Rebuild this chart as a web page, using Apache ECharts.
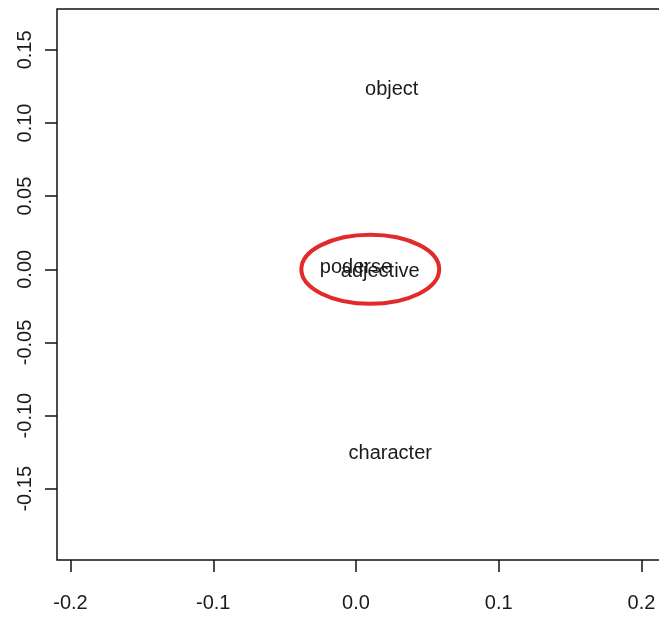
<!DOCTYPE html>
<html>
<head>
<meta charset="utf-8">
<script src="https://cdn.jsdelivr.net/npm/echarts@6/dist/echarts.min.js"></script>
<style>
html, body { margin: 0; padding: 0; background: #fff; }
#chart { width: 659px; height: 617px; }
</style>
</head>
<body>
<div id="chart"></div>
<script>
// ---- data ----
const words = ['object', 'poderse', 'adjective', 'character'];
const wordX = [0.025, 0.0, 0.017, 0.024];
const wordY = [0.1226, 0.0012, -0.0012, -0.1256];

const xTicks = [-0.2, -0.1, 0.0, 0.1, 0.2];
const xTickLabels = ['-0.2', '-0.1', '0.0', '0.1', '0.2'];
const yTicks = [-0.15, -0.10, -0.05, 0.00, 0.05, 0.10, 0.15];
const yTickLabels = ['-0.15', '-0.10', '-0.05', '0.00', '0.05', '0.10', '0.15'];

const ellipseCenter = [0.01, 0.0];
const ellipseRadius = [0.0483, 0.0236];

const xRange = [-0.20946, 0.22487];
const yRange = [-0.1987, 0.17792];

// ---- chart ----
const chart = echarts.init(document.getElementById('chart'), null, { renderer: 'canvas' });
const font = '"Liberation Sans", Arial, sans-serif';
const textColor = '#1a1a1a';

function labelFor(ticks, labels) {
  return function (v) {
    for (let i = 0; i < ticks.length; i++) {
      if (Math.abs(ticks[i] - v) < 1e-9) return labels[i];
    }
    return '';
  };
}

const option = {
  animation: false,
  backgroundColor: '#ffffff',
  grid: {
    left: 57, top: 9, right: -18, bottom: 57,
    show: true, borderColor: '#111', borderWidth: 1.5,
    containLabel: false, outerBoundsMode: 'none'
  },
  xAxis: {
    type: 'value', min: xRange[0], max: xRange[1], position: 'bottom',
    axisLine: { show: false, onZero: false },
    splitLine: { show: false },
    axisTick: { show: true, inside: false, length: 12, customValues: xTicks, lineStyle: { color: '#111', width: 1.5 } },
    axisLabel: {
      show: true, customValues: xTicks, margin: 33,
      formatter: labelFor(xTicks, xTickLabels),
      color: textColor, fontSize: 20, fontFamily: font
    }
  },
  yAxis: {
    type: 'value', min: yRange[0], max: yRange[1], position: 'left',
    axisLine: { show: false, onZero: false },
    splitLine: { show: false },
    axisTick: { show: true, inside: false, length: 12, customValues: yTicks, lineStyle: { color: '#111', width: 1.5 } },
    axisLabel: {
      show: true, customValues: yTicks, margin: 22, rotate: 90,
      formatter: labelFor(yTicks, yTickLabels),
      color: textColor, fontSize: 20, fontFamily: font
    }
  },
  series: [
    {
      type: 'custom',
      data: words.map((w, i) => [wordX[i], wordY[i]]),
      renderItem: function (params, api) {
        const p = api.coord([api.value(0), api.value(1)]);
        return {
          type: 'text', x: p[0], y: p[1],
          style: {
            text: words[params.dataIndex],
            fontSize: 20, fontFamily: font, fill: textColor,
            align: 'center', verticalAlign: 'middle'
          }
        };
      }
    },
    {
      type: 'custom',
      data: [[ellipseCenter[0], ellipseCenter[1], ellipseRadius[0], ellipseRadius[1]]],
      renderItem: function (params, api) {
        const c = api.coord([api.value(0), api.value(1)]);
        const s = api.size([api.value(2), api.value(3)]);
        return {
          type: 'ellipse',
          shape: { cx: c[0], cy: c[1], rx: s[0], ry: s[1] },
          style: { fill: 'none', stroke: '#e22a2a', lineWidth: 4 }
        };
      }
    }
  ]
};
chart.setOption(option);
</script>
</body>
</html>
